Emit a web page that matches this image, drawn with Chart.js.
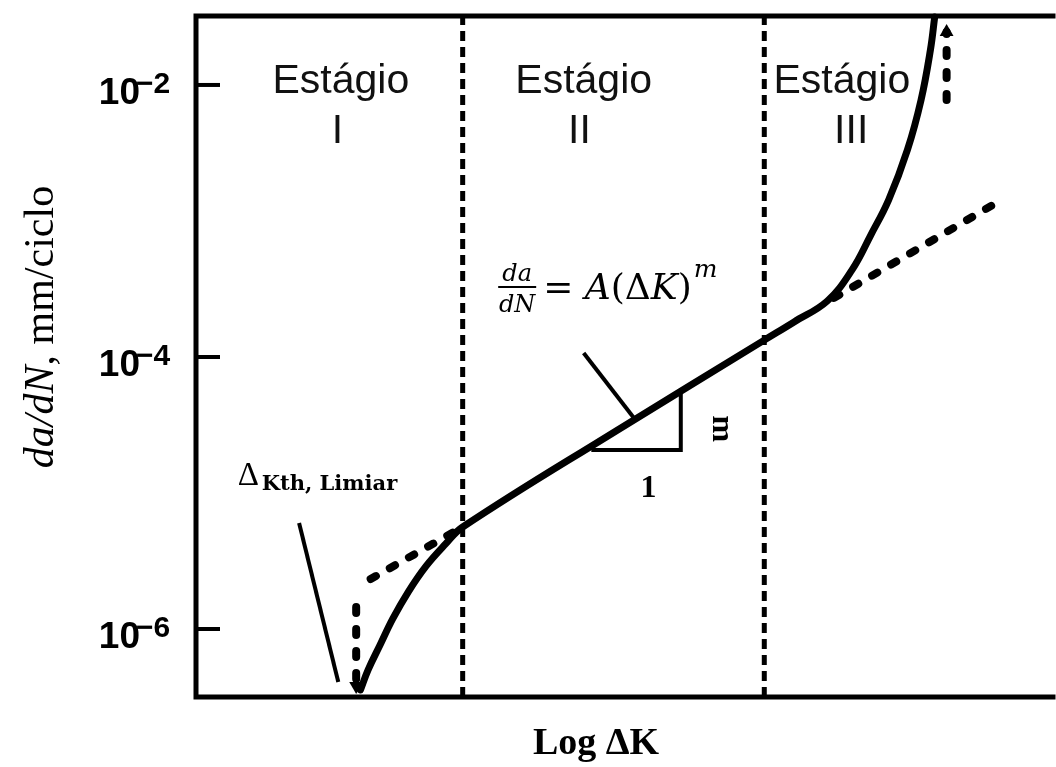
<!DOCTYPE html>
<html>
<head>
<meta charset="utf-8">
<script src="https://cdn.jsdelivr.net/npm/chart.js@4/dist/chart.umd.min.js"></script>
<style>
  body { margin: 0; background: #fff; }
  #wrap { width: 1056px; height: 767px; }
</style>
</head>
<body>
<div id="wrap"><canvas id="crackChart" width="1056" height="767"></canvas></div>
<script>
// x = log dK (schematic units), y = da/dN in mm/ciclo (log scale)

// crack growth curve (stages I, II, III)
const curveX = [1.93, 2.02, 2.16, 2.31, 2.49, 2.70, 2.93, 3.13, 4.93, 6.67, 7.02, 7.41, 7.70, 7.92, 8.13, 8.35, 8.51, 8.62, 8.67];
const curveY = [3.56e-7, 5.00e-7, 7.62e-7, 1.19e-6, 1.87e-6, 2.90e-6, 4.22e-6, 5.62e-6, 2.86e-5, 1.33e-4, 1.81e-4, 2.58e-4, 4.37e-4, 7.88e-4, 1.43e-3, 3.33e-3, 7.76e-3, 1.81e-2, 3.16e-2];

// Paris law extrapolation (dashed)
const parisLowX = [2.05, 3.13];
const parisLowY = [2.33e-6, 5.62e-6];
const parisHighX = [7.49, 9.35];
const parisHighY = [2.72e-4, 1.31e-3];

// stage boundaries
const stageBounds = [3.13, 6.67];
const stageNames = ['I', 'II', 'III'];
const stageTitleX = [1.70, 4.55, 7.58];
const stageNumX = [1.66, 4.50, 7.69];

// slope triangle (1 : m)
const triX = [4.64, 5.69, 5.69];
const triY = [2.07e-5, 2.07e-5, 5.43e-5];

// pointer lines
const formulaPtrX = [4.55, 5.14];
const formulaPtrY = [1.07e-4, 3.56e-5];
const thresholdPtrX = [1.21, 1.67];
const thresholdPtrY = [6.01e-6, 4.07e-7];

// arrows
const thArrowX = [1.88, 1.88];
const thArrowY = [1.45e-6, 3.81e-7];
const topArrowX = [8.81, 8.81];
const topArrowY = [7.76e-3, 2.45e-2];

// axis ticks
const yTicks = [1e-2, 1e-4, 1e-6];
const yTickExp = ['\u22122', '\u22124', '\u22126'];
const yMin = Math.pow(10, -6.5);
const yMax = Math.pow(10, -1.493);

function pts(xs, ys) {
    return xs.map((x, i) => ({ x: x, y: ys[i] }));
}

function vline(x) {
    return [{ x: x, y: yMin }, { x: x, y: yMax }];
}

const dotted = { borderDash: [6, 16], borderWidth: 8, borderCapStyle: 'round' };

const datasets = [
    { data: vline(stageBounds[0]), borderWidth: 5, borderDash: [10, 6] },
    { data: vline(stageBounds[1]), borderWidth: 5, borderDash: [10, 6] },
    Object.assign({ data: pts(parisLowX, parisLowY) }, dotted),
    Object.assign({ data: pts(parisHighX, parisHighY) }, dotted),
    { data: pts(curveX, curveY), borderWidth: 7, tension: 0.4, borderJoinStyle: 'round', borderCapStyle: 'round' },
    { data: pts(triX, triY), borderWidth: 4 },
    { data: pts(formulaPtrX, formulaPtrY), borderWidth: 4 },
    { data: pts(thresholdPtrX, thresholdPtrY), borderWidth: 4 },
    Object.assign({ data: pts(thArrowX, thArrowY), pointRadius: [0, 8], pointRotation: [0, 180] }, dotted),
    Object.assign({ data: pts(topArrowX, topArrowY), pointRadius: [0, 8], pointRotation: [0, 0] }, dotted)
];

datasets.forEach(d => {
    d.showLine = true;
    d.borderColor = '#000';
    d.backgroundColor = '#000';
    d.pointBackgroundColor = '#000';
    d.pointBorderWidth = 0;
    d.pointStyle = 'triangle';
    if (d.pointRadius === undefined) d.pointRadius = 0;
    d.clip = false;
});

const serif = "'Liberation Serif', 'Times New Roman', serif";
const sans = "'Liberation Sans', Arial, sans-serif";
const math = "'DejaVu Serif', serif";

// frame, ticks and all the text
const decorations = {
    id: 'decorations',
    afterDatasetsDraw(chart) {
        const ctx = chart.ctx;
        const a = chart.chartArea;
        const sx = chart.scales.x, sy = chart.scales.y;
        const px = v => sx.getPixelForValue(v);
        const py = v => sy.getPixelForValue(v);
        ctx.save();
        ctx.fillStyle = '#000';
        ctx.strokeStyle = '#000';

        // frame (left, top, bottom)
        ctx.lineWidth = 5;
        ctx.lineCap = 'square';
        ctx.beginPath();
        ctx.moveTo(a.right + 5, a.top);
        ctx.lineTo(a.left, a.top);
        ctx.lineTo(a.left, a.bottom);
        ctx.lineTo(a.right + 5, a.bottom);
        ctx.stroke();

        // y ticks + labels
        ctx.lineWidth = 4;
        ctx.lineCap = 'butt';
        yTicks.forEach((v, i) => {
            const y = py(v);
            ctx.beginPath();
            ctx.moveTo(a.left, y);
            ctx.lineTo(a.left + 24, y);
            ctx.stroke();
            ctx.textBaseline = 'alphabetic';
            ctx.textAlign = 'right';
            ctx.font = 'bold 37px ' + sans;
            ctx.fillText('10', a.left - 56, y + 19);
            ctx.textAlign = 'left';
            ctx.font = 'bold 30px ' + sans;
            ctx.fillText(yTickExp[i], a.left - 60, y + 8);
        });

        // stage labels
        ctx.font = '41px ' + sans;
        ctx.fillStyle = '#111';
        ctx.textAlign = 'center';
        stageNames.forEach((s, i) => {
            ctx.fillText('Est\u00e1gio', px(stageTitleX[i]), py(8.73e-3));
            ctx.fillText(s, px(stageNumX[i]), py(3.75e-3));
        });
        ctx.fillStyle = '#000';

        // formula da/dN = A(dK)^m
        const fx = px(3.535), fy = py(3.27e-4);
        ctx.font = 'italic 24px ' + math;
        ctx.textAlign = 'center';
        ctx.fillText('da', fx + 20, fy - 6);
        ctx.fillText('dN', fx + 20, fy + 25);
        ctx.fillRect(fx + 1, fy - 1, 38, 2);
        ctx.textAlign = 'left';
        let cx = fx + 46;
        const parts = [['=', false], [' ', false], ['A', true], ['(', false], ['\u0394', false], ['K', true], [')', false]];
        parts.forEach(p => {
            ctx.font = (p[1] ? 'italic ' : '') + '36px ' + math;
            ctx.fillText(p[0], cx, fy + 12);
            cx += ctx.measureText(p[0]).width;
        });
        ctx.font = 'italic 25px ' + math;
        ctx.fillText('m', cx + 2, fy - 10);

        // slope labels
        ctx.font = 'bold 32px ' + serif;
        ctx.textAlign = 'center';
        ctx.fillText('1', px(5.31), py(9.35e-6));
        ctx.save();
        ctx.translate(px(6.16), py(2.96e-5));
        ctx.rotate(Math.PI / 2);
        ctx.textBaseline = 'middle';
        ctx.fillText('m', 0, 0);
        ctx.restore();

        // threshold label
        const tx = px(0.49), ty = py(1.15e-5);
        ctx.textAlign = 'left';
        ctx.font = '33px ' + serif;
        ctx.fillText('\u0394', tx, ty);
        ctx.font = 'bold 21px ' + math;
        ctx.fillText('Kth, Limiar', tx + 24, ty + 5);

        // x title
        ctx.font = 'bold 38px ' + serif;
        ctx.textAlign = 'center';
        ctx.fillText('Log \u0394K', 596, a.bottom + 57);

        // y title
        ctx.save();
        ctx.translate(53, 327);
        ctx.rotate(-Math.PI / 2);
        ctx.textBaseline = 'alphabetic';
        ctx.textAlign = 'left';
        const t1 = 'da/dN', t2 = ', mm/ciclo';
        ctx.font = 'italic 42px ' + serif;
        const w1 = ctx.measureText(t1).width;
        ctx.font = '42px ' + serif;
        const w2 = ctx.measureText(t2).width;
        const start = -(w1 + w2) / 2;
        ctx.font = 'italic 42px ' + serif;
        ctx.fillText(t1, start, 0);
        ctx.font = '42px ' + serif;
        ctx.fillText(t2, start + w1, 0);
        ctx.restore();

        ctx.restore();
    }
};

new Chart(document.getElementById('crackChart'), {
    type: 'scatter',
    data: { datasets: datasets },
    options: {
        responsive: false,
        animation: false,
        layout: { padding: { left: 196, top: 16, right: 0, bottom: 70 } },
        plugins: { legend: { display: false }, tooltip: { enabled: false } },
        scales: {
            x: { type: 'linear', min: 0, max: 10, display: false },
            y: { type: 'logarithmic', min: yMin, max: yMax, display: false }
        }
    },
    plugins: [decorations]
});
</script>
</body>
</html>
